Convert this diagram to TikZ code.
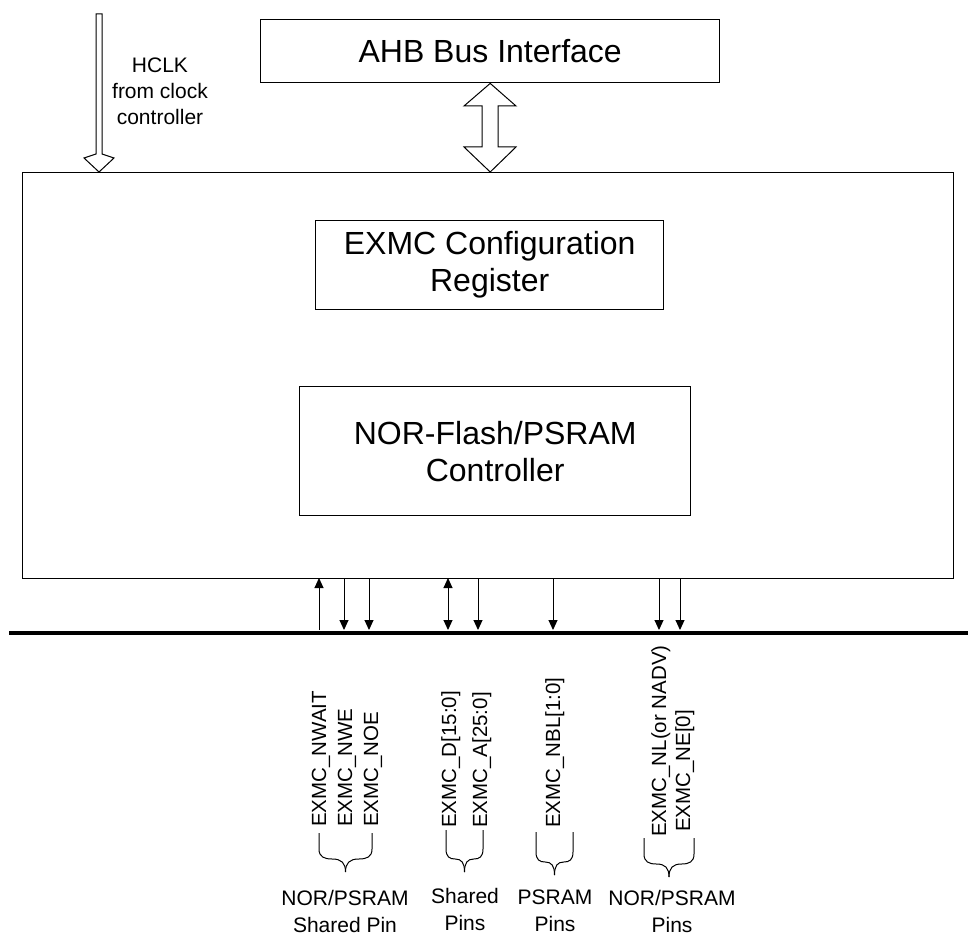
\documentclass[tikz,border=0pt]{standalone}
\usepackage{fontspec}
\setmainfont{Liberation Sans}
\usetikzlibrary{arrows.meta}
\newcommand{\myBig}{\fontsize{32}{37}\selectfont}
\newcommand{\myMid}{\fontsize{21}{26}\selectfont}
\newcommand{\myLbl}{\fontsize{20.5}{24}\selectfont}
\newcommand{\pinbrace}[4]{%
  \pgfmathsetmacro{\bC}{(#1+#2)/2}%
  \pgfmathsetmacro{\bW}{(#2-#1)/2}%
  \pgfmathsetmacro{\bM}{#4-13}%
  \draw[bracel] (#1,#3) -- (#1,\bM-10) .. controls (#1,\bM-2) and (#1+0.2*\bW,\bM) .. (#1+0.5*\bW,\bM)
     .. controls (#1+0.85*\bW,\bM) and (\bC,\bM+4) .. (\bC,#4);
  \draw[bracel] (#2,#3) -- (#2,\bM-10) .. controls (#2,\bM-2) and (#2-0.2*\bW,\bM) .. (#2-0.5*\bW,\bM)
     .. controls (#2-0.85*\bW,\bM) and (\bC,\bM+4) .. (\bC,#4);
}
\begin{document}
\begin{tikzpicture}[x=1pt,y=-1pt,
  box/.style={draw=black, line width=1.4pt, inner sep=0pt, anchor=north west, align=center, font=\myBig},
  hollow/.style={draw=black, line width=1pt, fill=white, line join=miter},
  sig/.style={draw=black, line width=1pt},
  tip/.style={-{Triangle[length=10pt,width=9pt]}},
  tips/.style={{Triangle[length=10pt,width=9pt]}-{Triangle[length=10pt,width=9pt]}},
  lbl/.style={rotate=90, anchor=base west, inner sep=0pt, font=\myLbl},
  grp/.style={align=center, inner sep=0pt, font=\fontsize{21}{27}\selectfont},
  bracel/.style={draw=black, line width=1pt}
]
\useasboundingbox (0,0) rectangle (968,936);

% boxes
\node[box, minimum width=931pt, minimum height=406pt] (main) at (22,172) {};
\node[box, minimum width=459pt, minimum height=63pt] (ahb) at (260,19) {AHB Bus Interface};
\node[box, minimum width=348pt, minimum height=89pt] (cfg) at (315,220) {EXMC Configuration\\Register};
\node[box, minimum width=391pt, minimum height=129pt] (nor) at (299,386) {NOR-Flash/PSRAM\\Controller};

% HCLK hollow arrow
\draw[hollow] (96,14) -- (102,14) -- (102,154) -- (114,158) -- (99,172) -- (84,158) -- (96,154) -- cycle;
\node[align=center, inner sep=0pt, font=\myMid] (hclk) at (160,91) {HCLK\\from clock\\controller};

% AHB <-> main hollow double arrow
\draw[hollow] (ahb.south) -- (516,106) -- (498,106) -- (498,147) -- (516,147) -- (main.north -| ahb.south)
  -- (464,147) -- (482,147) -- (482,106) -- (464,106) -- cycle;

% bus line
\coordinate (busL) at (9,633);
\coordinate (busR) at (968,633);
\draw[line width=4pt] (busL) -- (busR);

% signal arrows
\foreach \n/\x in {1/319,2/344,3/369,4/448,5/478,6/553,7/659,8/680}{
  \coordinate (t\n) at (\x,578);
  \coordinate (b\n) at (\x,630);
}
\draw[sig,tip] (b1) -- (t1);
\draw[sig,tip] (t2) -- (b2);
\draw[sig,tip] (t3) -- (b3);
\draw[sig,tips] (t4) -- (b4);
\draw[sig,tip] (t5) -- (b5);
\draw[sig,tip] (t6) -- (b6);
\draw[sig,tip] (t7) -- (b7);
\draw[sig,tip] (t8) -- (b8);

% rotated pin labels
\node[lbl] (l1) at (326,827) {EXMC\_NWAIT};
\node[lbl] (l2) at (352,827) {EXMC\_NWE};
\node[lbl] (l3) at (378,827) {EXMC\_NOE};
\node[lbl] (l4) at (456,828) {EXMC\_D[15:0]};
\node[lbl] (l5) at (487,828) {EXMC\_A[25:0]};
\node[lbl] (l6) at (560,828) {EXMC\_NBL[1:0]};
\node[lbl] (l7) at (666,837) {EXMC\_NL(or NADV)};
\node[lbl] (l8) at (690,832) {EXMC\_NE[0]};

% braces
\pinbrace{319}{372}{833}{872}
\pinbrace{446}{483}{830}{872}
\pinbrace{536}{573}{832}{875}
\pinbrace{644}{694}{838}{877}

% group captions
\node[grp] (g1) at (345,911) {NOR/PSRAM\\Shared Pin};
\node[grp] (g2) at (465,909) {Shared\\Pins};
\node[grp] (g3) at (555,911) {PSRAM\\Pins};
\node[grp] (g4) at (672,911) {NOR/PSRAM\\Pins};
\end{tikzpicture}
\end{document}
